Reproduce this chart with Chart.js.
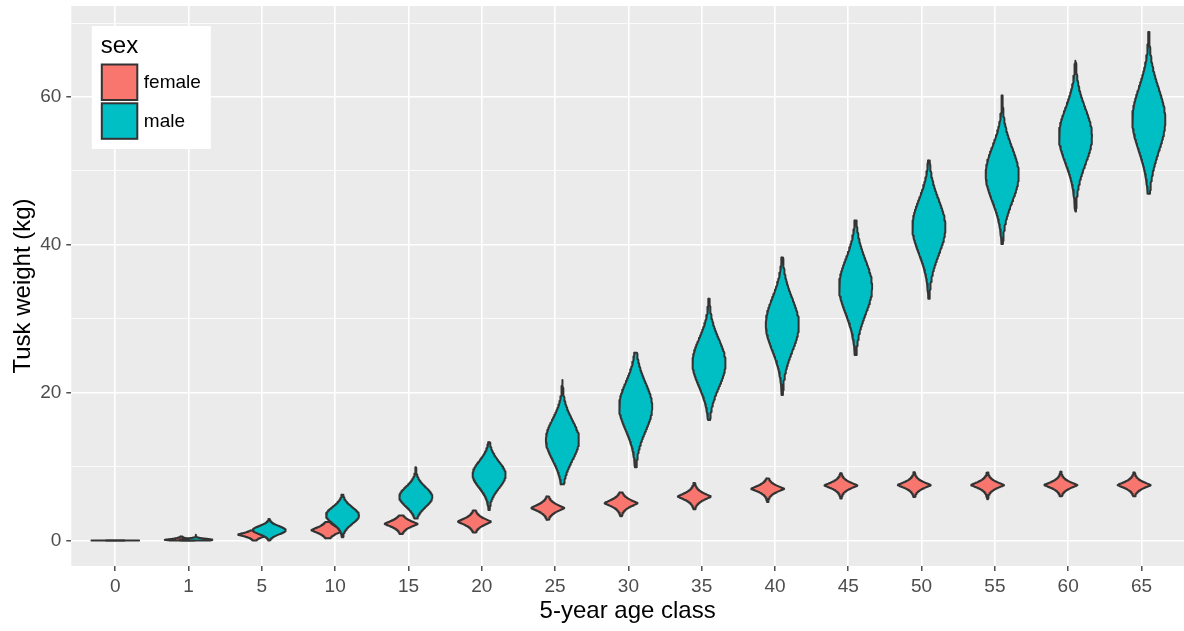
<!DOCTYPE html>
<html>
<head>
<meta charset="utf-8">
<script src="https://cdn.jsdelivr.net/npm/chart.js@4/dist/chart.umd.min.js"></script>
<style>
    html, body { margin: 0; padding: 0; background: #ffffff; }
    #wrap { width: 1184px; height: 631px; }
</style>
</head>
<body>
<div id="wrap"><canvas id="tuskChart"></canvas></div>
<script>
// ===================================
// DATA
// ===================================

const ageClasses = ['0', '1', '5', '10', '15', '20', '25', '30', '35', '40', '45', '50', '55', '60', '65'];
const sexes = ['female', 'male'];

// female violins: lowest value, densest value, highest value, half-width spread (kg)
const femaleMin    = [0, 0,    0,    0.3,  0.9,  1.1,  2.8,  3.3,  4.25, 5.2,  5.7,  5.9,  5.6,  6.0,  6.0];
const femaleMode   = [0, 0.1,  0.8,  1.4,  2.25, 2.55, 4.4,  5.05, 5.95, 7.0,  7.45, 7.5,  7.5,  7.5,  7.5];
const femaleMax    = [0, 0.55, 1.35, 2.5,  3.4,  4.05, 5.95, 6.5,  7.8,  8.4,  9.1,  9.25, 9.2,  9.3,  9.2];
const femaleSpread = [0, 0.14, 0.32, 0.5,  0.5,  0.55, 0.55, 0.55, 0.55, 0.5,  0.5,  0.5,  0.5,  0.5,  0.5];

// male violins
const maleMin    = [0, 0,    0,    0.45, 3.0,  4.15, 7.6,  9.9,  16.3, 19.7, 25.1, 32.7, 40.1, 44.5, 46.9];
const maleMode   = [0, 0.1,  1.4,  3.4,  5.9,  8.9,  13.6, 18.1, 24.0, 29.2, 34.3, 42.4, 49.5, 54.7, 56.9];
const maleMax    = [0, 0.8,  2.9,  6.2,  9.9,  13.3, 21.7, 25.4, 32.7, 38.3, 43.3, 51.4, 60.2, 64.9, 68.8];
const maleSpread = [0, 0.18, 0.65, 1.3,  1.55, 2.1,  3.2,  3.8,  3.8,  4.2,  4.3,  4.3,  4.3,  4.4,  5.0];

const yMajorTicks = [0, 20, 40, 60];
const yMinorTicks = [10, 30, 50, 70];

// ===================================
// STYLE
// ===================================

const fillColors = { female: '#F8766D', male: '#00BFC4' };
const outline = '#333333';
const panelBg = '#EBEBEB';
const axisTextColor = '#4D4D4D';
const fontFamily = "'Liberation Sans', Arial, sans-serif";

const dodge = 0.1;        // centre offset of each sex within a class
const halfWidth = 0.225;  // half of the widest violin, in class units
const shapePower = { female: 1.3, male: 2 };

// Build one closed violin outline (right side up, left side down)
function violinPoints(i, sex, lo, mode, hi, spread) {
    const off = sex === 'female' ? -dodge : dodge;
    const p = shapePower[sex];
    const cx = i + off;
    if (hi - lo <= 0) {
        return [{ x: cx - halfWidth, y: lo }, { x: cx + halfWidth, y: lo }];
    }
    const s = spread / Math.pow(Math.LN2, 1 / p);
    const n = 90;
    const ys = [];
    for (let k = 0; k <= n; k++) ys.push(lo + (hi - lo) * k / n);
    ys.push(mode);
    ys.sort((a, b) => a - b);
    const w = y => halfWidth * Math.exp(-Math.pow(Math.abs(y - mode) / s, p));
    const right = ys.map(y => ({ x: cx + w(y), y: y }));
    const left = ys.slice().reverse().map(y => ({ x: cx - w(y), y: y }));
    return right.concat(left, [right[0]]);
}

function buildDatasets(sex, mins, modes, maxs, spreads) {
    return ageClasses.map((label, i) => ({
        label: sex + ' ' + label,
        data: violinPoints(i, sex, mins[i], modes[i], maxs[i], spreads[i]),
        backgroundColor: fillColors[sex],
        borderColor: outline,
        borderWidth: 2,
        borderJoinStyle: 'round',
        borderCapStyle: 'round',
        pointRadius: 0,
        pointHoverRadius: 0,
        tension: 0,
        fill: 'shape',
        // male drawn over female within the same class
        order: sex === 'male' ? 0 : 1
    }));
}

// ===================================
// PLUGINS
// ===================================

const panelBackground = {
    id: 'panelBackground',
    beforeDraw(chart) {
        const { ctx, chartArea: a } = chart;
        ctx.save();
        ctx.fillStyle = panelBg;
        ctx.fillRect(a.left, a.top, a.right - a.left, a.bottom - a.top);
        ctx.restore();
    }
};

const sexLegend = {
    id: 'sexLegend',
    afterDraw(chart) {
        const { ctx, chartArea: a } = chart;
        const x0 = a.left + 20.5, y0 = a.top + 20;
        ctx.save();
        ctx.fillStyle = '#ffffff';
        ctx.fillRect(x0, y0, 119, 123);
        ctx.fillStyle = '#000000';
        ctx.font = '24px ' + fontFamily;
        ctx.textBaseline = 'alphabetic';
        ctx.fillText('sex', x0 + 9, y0 + 27);
        sexes.forEach((sex, k) => {
            const ky = y0 + 38.5 + k * 38.8;
            ctx.fillStyle = fillColors[sex];
            ctx.fillRect(x0 + 10, ky, 35.5, 35.5);
            ctx.strokeStyle = outline;
            ctx.lineWidth = 2;
            ctx.strokeRect(x0 + 10, ky, 35.5, 35.5);
            ctx.fillStyle = '#000000';
            ctx.font = '19px ' + fontFamily;
            ctx.textBaseline = 'middle';
            ctx.fillText(sex, x0 + 52, ky + 18.5);
        });
        ctx.restore();
    }
};

// ===================================
// CHART
// ===================================

document.addEventListener('DOMContentLoaded', () => {
    const datasets = buildDatasets('male', maleMin, maleMode, maleMax, maleSpread)
        .concat(buildDatasets('female', femaleMin, femaleMode, femaleMax, femaleSpread));

    new Chart(document.getElementById('tuskChart').getContext('2d'), {
        type: 'line',
        data: { datasets: datasets },
        plugins: [panelBackground, sexLegend],
        options: {
            responsive: true,
            maintainAspectRatio: false,
            animation: false,
            devicePixelRatio: 1,
            layout: { padding: { top: 6, left: 0, right: 0, bottom: 0 } },
            plugins: {
                legend: { display: false },
                tooltip: { enabled: false }
            },
            scales: {
                x: {
                    type: 'linear',
                    min: -0.6,
                    max: 14.58,
                    afterBuildTicks: scale => {
                        scale.ticks = ageClasses.map((_, i) => ({ value: i }));
                    },
                    afterFit: scale => {
                        scale.height = 65;
                        scale.paddingLeft = 0;
                        scale.paddingRight = 0;
                    },
                    border: { display: false },
                    grid: {
                        color: '#ffffff',
                        lineWidth: 1.6,
                        tickColor: outline,
                        tickLength: 5,
                        tickWidth: 1.3
                    },
                    ticks: {
                        autoSkip: false,
                        maxRotation: 0,
                        padding: 4,
                        color: axisTextColor,
                        font: { family: fontFamily, size: 19 },
                        callback: v => ageClasses[v]
                    },
                    title: {
                        display: true,
                        text: '5-year age class',
                        color: '#000000',
                        font: { family: fontFamily, size: 24 },
                        padding: { top: 0, bottom: 5 }
                    }
                },
                y: {
                    type: 'linear',
                    min: -3.44,
                    max: 72.3,
                    afterBuildTicks: scale => {
                        scale.ticks = yMajorTicks.concat(yMinorTicks)
                            .sort((a, b) => a - b)
                            .map(v => ({ value: v }));
                    },
                    afterFit: scale => {
                        scale.width = 71.3;
                        scale.paddingTop = 0;
                        scale.paddingBottom = 0;
                    },
                    border: { display: false },
                    grid: {
                        color: '#ffffff',
                        lineWidth: c => (c.tick && yMajorTicks.includes(c.tick.value)) ? 1.6 : 0.8,
                        tickColor: c => (c.tick && yMajorTicks.includes(c.tick.value)) ? outline : 'rgba(0,0,0,0)',
                        tickLength: 5,
                        tickWidth: 1.3
                    },
                    ticks: {
                        autoSkip: false,
                        padding: 5,
                        color: axisTextColor,
                        font: { family: fontFamily, size: 19 },
                        callback: v => yMajorTicks.includes(v) ? String(v) : ''
                    },
                    title: {
                        display: true,
                        text: 'Tusk weight (kg)',
                        color: '#000000',
                        font: { family: fontFamily, size: 24 },
                        padding: { top: 8.8, bottom: 0 }
                    }
                }
            }
        }
    });
});
</script>
</body>
</html>
